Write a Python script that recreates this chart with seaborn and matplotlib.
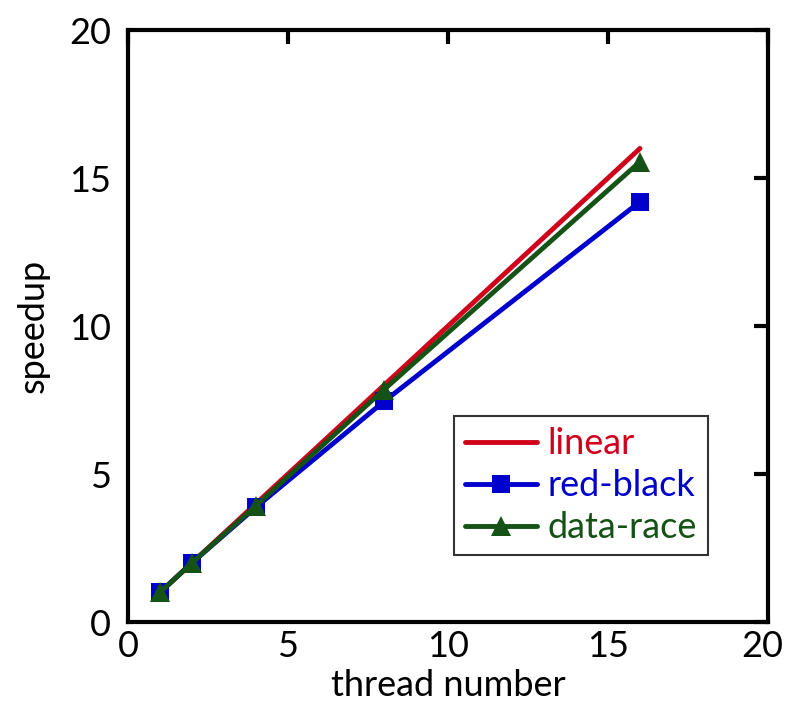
import matplotlib
matplotlib.use("Agg")
import matplotlib.pyplot as plt
import matplotlib.transforms as mtransforms
import seaborn as sns
import pandas as pd

threads = [1, 2, 4, 8, 16]
linear = [1, 2, 4, 8, 16]
red_black = [1.0, 2.0, 3.88, 7.45, 14.2]
data_race = [1.0, 2.0, 3.93, 7.85, 15.55]
x_ticks = [0, 5, 10, 15, 20]
y_ticks = [0, 5, 10, 15, 20]

sns.set_theme(style="white")
plt.rcParams['font.family'] = ['Lato', 'DejaVu Sans']

fig = plt.figure(figsize=(7.87, 7.22), dpi=100)
ax = fig.add_axes([128/787, 1-622/722, (768-128)/787, (622-30)/722])

df = pd.DataFrame({"threads": threads, "linear": linear,
                   "red-black": red_black, "data-race": data_race})

sns.lineplot(data=df, x="threads", y="linear", ax=ax, color="#d0021b",
             lw=3.5, label="linear")
sns.lineplot(data=df, x="threads", y="red-black", ax=ax, color="#0000cc",
             lw=3.5, marker="s", markersize=13, markeredgewidth=0, label="red-black")
sns.lineplot(data=df, x="threads", y="data-race", ax=ax, color="#155215",
             lw=3.5, marker="^", markersize=15, markeredgewidth=0, label="data-race")

ax.set_xlim(0, 20)
ax.set_ylim(0, 20)
ax.set_xticks(x_ticks)
ax.set_yticks(y_ticks)
ax.set_xlabel("thread number", fontsize=26, color="black", labelpad=4)
ax.set_ylabel("speedup", fontsize=26, color="black", labelpad=14)
ax.tick_params(direction="in", length=10, width=3, top=True, right=True,
               labelsize=26, colors="black", pad=6)
ax.tick_params(axis="y", pad=12)
for s in ax.spines.values():
    s.set_visible(True)
    s.set_color("black")
    s.set_linewidth(3)

last = ax.get_xticklabels()[-1]
last.set_transform(last.get_transform() +
                   mtransforms.ScaledTranslation(-6/100, 0, fig.dpi_scale_trans))

leg = ax.legend(loc="lower right", bbox_to_anchor=(0.906, 0.113), fontsize=26,
                frameon=True, fancybox=False, edgecolor="black",
                handlelength=2.0, handletextpad=0.3, borderpad=0.3,
                labelspacing=0.25, borderaxespad=0)
leg.get_frame().set_linewidth(1.5)
for t, h in zip(leg.get_texts(), leg.get_lines()):
    t.set_color(h.get_color())

fig.savefig("out.png", dpi=100)
